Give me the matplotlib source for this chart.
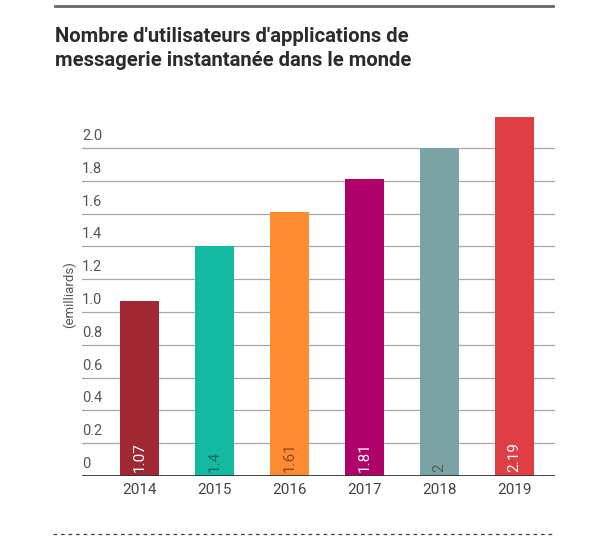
import numpy as np
import matplotlib.pyplot as plt
from matplotlib.lines import Line2D

plt.rcParams['font.family'] = ['Roboto', 'DejaVu Sans']

years = ['2014', '2015', '2016', '2017', '2018', '2019']
users = [1.07, 1.4, 1.61, 1.81, 2.0, 2.19]
labels = ['1.07', '1.4', '1.61', '1.81', '2', '2.19']
colors = ['#a02832', '#13b9a0', '#ff8c33', '#b0006a', '#7ba3a5', '#e03e45']
label_colors = ['white', '#1d6b60', '#8a4a1c', 'white', '#4a5d5e', 'white']
yticks = np.arange(0, 2.01, 0.2)

W, H = 604, 542
fig = plt.figure(figsize=(W / 100, H / 100), dpi=100)

# axes box in pixel terms
x0, x1 = 82, 555
y_base = 476
px_per_unit = 164
ymax = 2.2
ax = fig.add_axes([x0 / W, 1 - y_base / H, (x1 - x0) / W, ymax * px_per_unit / H])

x = np.arange(len(years))
ax.bar(x, users, width=0.52, color=colors, zorder=2)
ax.set_xlim(-0.77, 5.54)
ax.set_ylim(0, ymax)

for i, v in enumerate(users):
    ax.text(x[i], 0.025, labels[i], rotation=90, ha='center', va='bottom',
            fontsize=11, color=label_colors[i], zorder=3)

for t in yticks:
    if t > 0:
        ax.axhline(t, color='#a8a8a8', lw=0.9, zorder=1)
    ax.text(0.0, t + 0.03, '0' if t == 0 else f'{t:.1f}',
            transform=ax.get_yaxis_transform(), ha='left', va='bottom',
            fontsize=10.5, color='#555555')
ax.axhline(0, color='#333333', lw=2, zorder=4)

ax.set_yticks([])
ax.set_xticks(x)
ax.set_xticklabels(years, fontsize=11, color='#444444')
ax.tick_params(axis='x', length=0, pad=5)
for s in ax.spines.values():
    s.set_visible(False)

fig.text(69 / W, 1 - 295 / H, '(emilliards)', rotation=90, ha='center',
         va='center', fontsize=9.5, color='#555555')

fig.text(55 / W, 1 - 66 / H, "Nombre d'utilisateurs d'applications de\nmessagerie instantanée dans le monde",
         fontsize=14.6, fontweight='bold', color='#2b2b2b', ha='left', va='baseline',
         linespacing=1.3)

fig.add_artist(Line2D([55 / W, 553 / W], [1 - 6 / H, 1 - 6 / H], color='#666666', lw=2))
fig.add_artist(Line2D([53 / W, 555 / W], [1 - 534 / H, 1 - 534 / H], color='#444444',
                      lw=0.9, ls=(0, (3, 3))))

fig.savefig('out.png', dpi=100)
